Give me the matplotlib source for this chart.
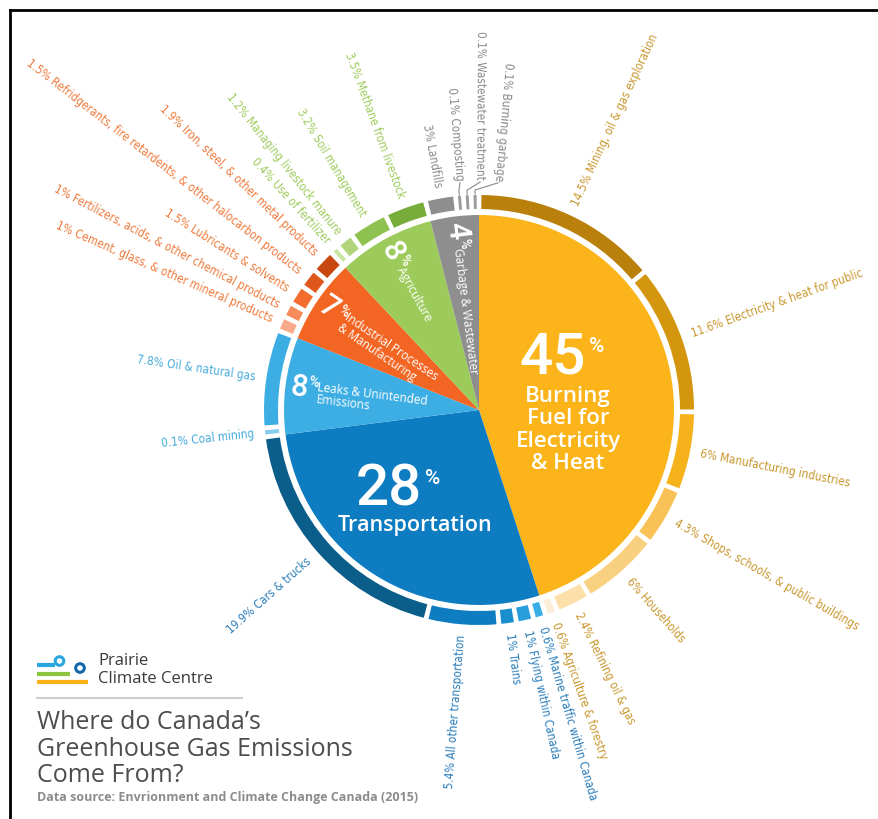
import numpy as np
import matplotlib
matplotlib.use("Agg")
import matplotlib.pyplot as plt
from matplotlib.patches import Wedge, Circle
from matplotlib import font_manager as fm

# main sectors (percent of total emissions), clockwise from 12 o'clock
sectors = ["Burning\nFuel for\nElectricity\n& Heat", "Transportation", "Leaks & Unintended\nEmissions",
           "Industrial Processes\n& Manufacturing", "Agriculture", "Garbage & Wastewater"]
sector_pct = [45, 28, 8, 7, 8, 4]
sector_colors = ["#FBB41A", "#0E7CC1", "#3DAEE4", "#F26522", "#9DCB5B", "#8E8E8E"]
label_colors = ["#C9962C", "#2A7DBA", "#45A9DC", "#EE7A3B", "#9DCB5B", "#8A8A8A"]

# sub-sources in the outer ring, grouped by sector
sub_names = [
    ["Mining, oil & gas exploration", "Electricity & heat for public", "Manufacturing industries",
     "Shops, schools, & public buildings", "Households", "Refining oil & gas", "Agriculture & forestry"],
    ["Marine traffic within Canada", "Flying within Canada", "Trains", "All other transportation",
     "Cars & trucks"],
    ["Coal mining", "Oil & natural gas"],
    ["Cement, glass, & other mineral products", "Fertilizers, acids, & other chemical products",
     "Lubricants & solvents", "Refridgerants, fire retardents, & other halocarbon products",
     "Iron, steel, & other metal products"],
    ["Use of fertilizer", "Managing livestock manure", "Soil management", "Methane from livestock"],
    ["Landfills", "Composting", "Wastewater treatment", "Burning garbage"],
]
sub_pct = [
    [14.5, 11.6, 6, 4.3, 6, 2.4, 0.6],
    [0.6, 1, 1, 5.4, 19.9],
    [0.1, 7.8],
    [1, 1, 1.5, 1.5, 1.9],
    [0.4, 1.2, 3.2, 3.5],
    [3, 0.1, 0.1, 0.1],
]
sub_colors = [
    ["#B9800C", "#D4960F", "#F6B21B", "#F8C256", "#F9D07F", "#FBE0AA", "#FDEEDA"],
    ["#3BAEE7", "#2A9EDD", "#1B8ECF", "#0E7CC1", "#0B5E89"],
    ["#86CCEE", "#3DAEE4"],
    ["#F9AA8A", "#F78B5C", "#F26D2E", "#E0571C", "#C9480F"],
    ["#CAE4A2", "#B2D57C", "#8EC14F", "#79AD3B"],
    ["#8E8E8E", "#9A9A9A", "#9A9A9A", "#9A9A9A"],
]

cx, cy = 479, 410
R_PIE = 195
R_IN, R_OUT = 201, 215
R_LAB = 226

# pick a narrow face for the ring labels if one is installed
cond_path = fm.findfont(fm.FontProperties(family="DejaVu Sans", stretch="condensed"))
if "Condensed" in cond_path:
    ring_font = dict(family="DejaVu Sans", fontstretch="condensed", fontsize=8.4)
else:
    ring_font = dict(family=["Liberation Sans", "DejaVu Sans"], fontsize=8)
num_font = ["Roboto", "DejaVu Sans"]
sans = ["Open Sans", "DejaVu Sans"]


def pt(a, r):
    """clockwise angle from top (deg), radius -> image coords"""
    t = np.radians(a)
    return cx + r * np.sin(t), cy - r * np.cos(t)


def fmt(v):
    return ("%g" % v) + "%"


fig = plt.figure(figsize=(8.79, 8.19), dpi=100)
ax = fig.add_axes([0, 0, 1, 1])
ax.set_xlim(0, 879)
ax.set_ylim(819, 0)
ax.axis("off")

# inner pie
starts = np.concatenate([[0], np.cumsum(sector_pct)[:-1]]) * 3.6
spans = np.array(sector_pct) * 3.6
for a0, w, col in zip(starts, spans, sector_colors):
    ax.add_patch(Wedge((cx, cy), R_PIE, a0 - 90, a0 + w - 90, color=col, lw=0))

# outer ring: each sector's sub-sources share that sector's arc
gap = 1.3
floor = 0.35
leader_angles = {(5, 1): 355.2, (5, 2): 360.3, (5, 3): 364.8}
for k in range(len(sectors)):
    vals = sub_pct[k]
    shown = [max(v, floor) for v in vals]
    scale = (spans[k] - gap * len(vals)) / sum(shown)
    a = starts[k] + gap / 2
    for j, (v, s) in enumerate(zip(vals, shown)):
        w = s * scale
        ax.add_patch(Wedge((cx, cy), R_OUT, a - 90, a + w - 90, width=R_OUT - R_IN,
                           color=sub_colors[k][j], lw=0))
        mid = a + w / 2
        lab = fmt(v) + " " + sub_names[k][j]
        la = leader_angles.get((k, j), mid)
        rl = R_LAB
        if (k, j) in leader_angles:
            rl = R_LAB + 4
            x0, y0 = pt(mid, R_OUT + 1)
            x1, y1 = pt(mid, R_OUT + 5)
            x2, y2 = pt(la, rl - 2)
            ax.plot([x0, x1, x2], [y0, y1, y2], color=label_colors[k], lw=0.8)
        x, y = pt(la, rl)
        if la < 180:
            ax.text(x, y, lab, rotation=90 - la, rotation_mode="anchor", ha="left", va="center",
                    color=label_colors[k], **ring_font)
        else:
            ax.text(x, y, lab, rotation=270 - la, rotation_mode="anchor", ha="right", va="center",
                    color=label_colors[k], **ring_font)
        a += w + gap

# big horizontal sector labels
ax.text(586, 374, str(sector_pct[0]), ha="right", va="baseline", color="white",
        fontsize=42, fontweight="medium", family=num_font)
ax.text(589, 352, "%", ha="left", va="baseline", color="white", fontsize=15,
        fontweight="medium", family=num_font)
ax.text(568, 430, sectors[0], ha="center", va="center", color="white", fontsize=16,
        fontweight="semibold", family=sans, linespacing=1.07)

ax.text(422, 506, str(sector_pct[1]), ha="right", va="baseline", color="white",
        fontsize=42, fontweight="medium", family=num_font)
ax.text(425, 484, "%", ha="left", va="baseline", color="white", fontsize=15,
        fontweight="medium", family=num_font)
ax.text(415, 525, sectors[1], ha="center", va="center", color="white", fontsize=15.5,
        fontweight="semibold", family=sans)

# smaller sectors: labels run along the slice bisector toward the centre
for k in range(2, 6):
    mid = starts[k] + spans[k] / 2
    rot = 270 - mid
    ur = np.radians(rot)
    up = np.array([-np.sin(ur), -np.cos(ur)])
    x, y = pt(mid, 190)
    ax.text(x, y, str(sector_pct[k]), rotation=rot, rotation_mode="anchor", ha="left",
            va="center", color="white", fontsize=22, fontweight="medium", family=num_font)
    x, y = np.array(pt(mid, 172)) + up * 6
    ax.text(x, y, "%", rotation=rot, rotation_mode="anchor", ha="left", va="center",
            color="white", fontsize=10, fontweight="medium", family=num_font)
    nlines = sectors[k].count("\n") + 1
    x, y = np.array(pt(mid, 163)) - up * (1 + 3 * (nlines - 1))
    ax.text(x, y, sectors[k], rotation=rot, rotation_mode="anchor", ha="left", va="center",
            color="white", fontsize=8.5, family=sans, linespacing=1.0)

# logo
ax.plot([37, 55], [665, 665], color="#2AA6DF", lw=3, solid_capstyle="butt")
ax.add_patch(Circle((59.5, 661), 4.3, fill=False, ec="#2AA6DF", lw=2.2))
ax.add_patch(Circle((80, 668), 4.3, fill=False, ec="#1268A8", lw=2.2))
ax.plot([37, 70], [673.5, 673.5], color="#8CC63F", lw=3, solid_capstyle="butt")
ax.plot([37, 88], [682, 682], color="#F7B319", lw=3, solid_capstyle="butt")
ax.text(98, 661, "Prairie", ha="left", va="center", color="#3A3A3A", fontsize=12, family=sans)
ax.text(98, 679, "Climate Centre", ha="left", va="center", color="#3A3A3A", fontsize=12, family=sans)
ax.plot([37, 242], [698, 698], color="#CFCFCF", lw=1.5)

# title block
ax.text(37, 749, "Where do Canada\u2019s\nGreenhouse Gas Emissions\nCome From?", ha="left", va="center",
        color="#4D4D4D", fontsize=18, family=sans, linespacing=1.08)
ax.text(37, 797, "Data source: Envrionment and Climate Change Canada (2015)", ha="left", va="center",
        color="#8C8C8C", fontsize=9, fontweight="bold", family=sans)

# frame edge
ax.plot([10, 879], [10, 10], color="black", lw=2)
ax.plot([10, 10], [10, 819], color="black", lw=2)

fig.savefig("out.png", dpi=100, facecolor="white")
